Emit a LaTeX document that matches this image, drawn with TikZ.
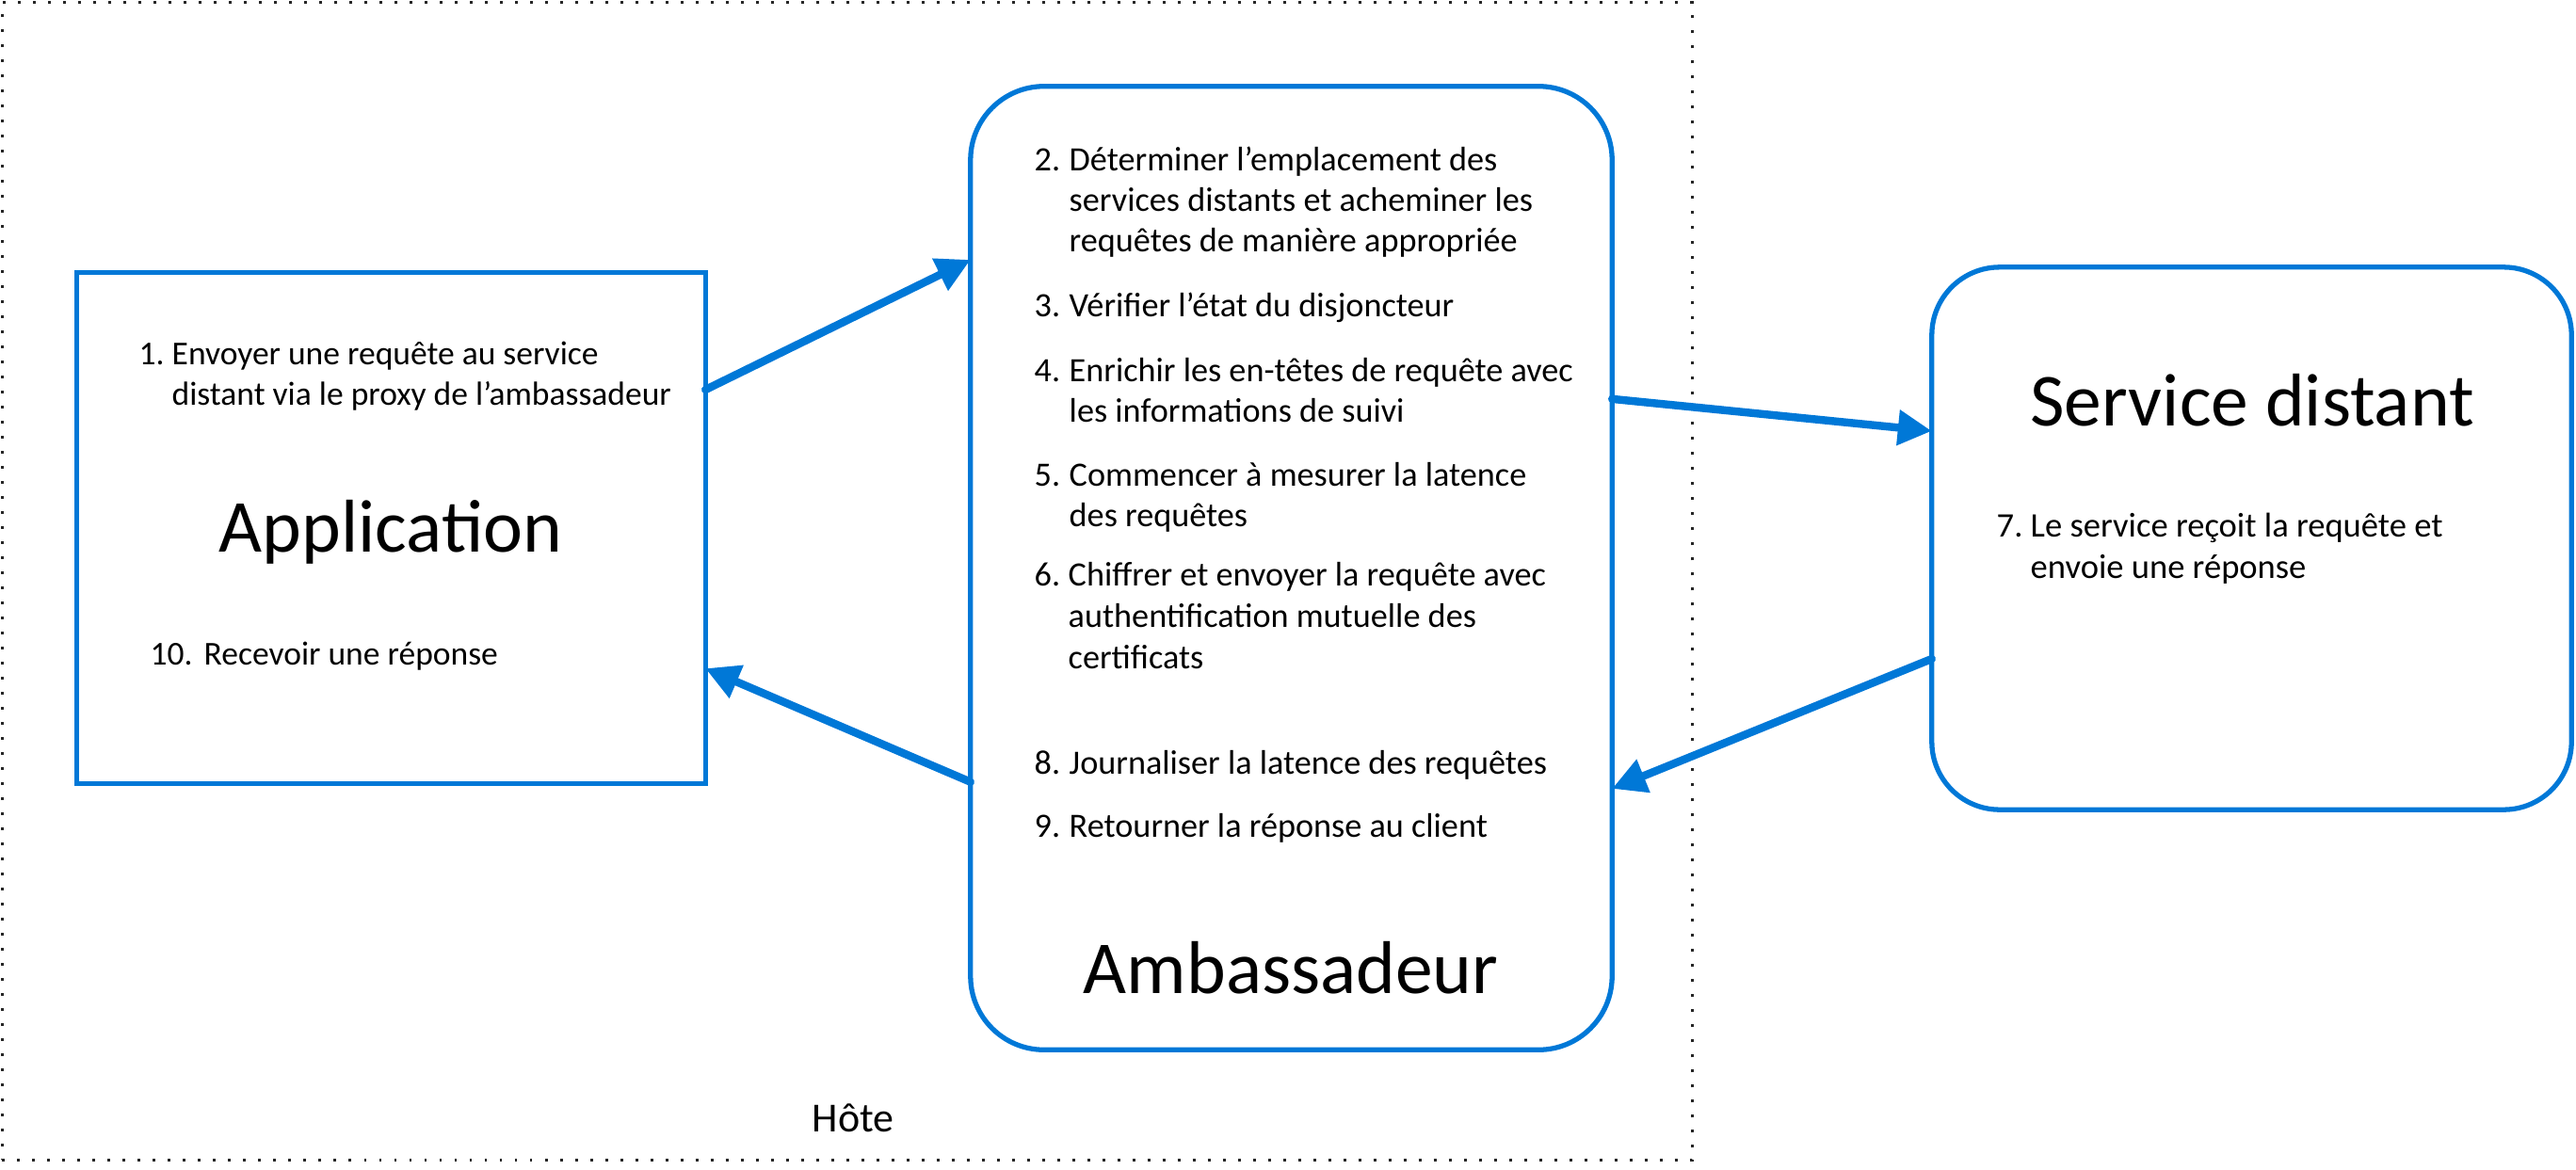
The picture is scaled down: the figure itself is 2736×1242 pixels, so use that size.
\documentclass[tikz,border=0pt]{standalone}
\usepackage{fontspec}
\setmainfont{Carlito}
\usetikzlibrary{arrows.meta,calc}
\definecolor{azblue}{RGB}{0,120,215}
\begin{document}
\begin{tikzpicture}[x=0.01cm,y=-0.01cm,
  box/.style={draw=azblue, line width=1.5pt, inner sep=0pt, outer sep=0pt},
  conn/.style={draw=azblue, line width=2.4pt, line cap=round, -{Triangle[length=0.36cm,width=0.36cm]}},
  small/.style={font=\fontsize{10.3}{12.2}\selectfont, anchor=base west, inner sep=0pt},
  appsmall/.style={small, font=\fontsize{10.1}{12.2}\selectfont},
  svcsmall/.style={small, font=\fontsize{10.4}{12.2}\selectfont},
  big/.style={font=\fontsize{22.6}{27}\selectfont, anchor=base, inner sep=0pt},
  hostlbl/.style={font=\fontsize{12.5}{15}\selectfont, anchor=base, inner sep=0pt},
]
\useasboundingbox (0,0) rectangle (2736,1242);
% host
\node[draw=black!85, line width=0.7pt, dash pattern=on 0.85pt off 3.7pt, minimum width=17.94cm, minimum height=12.29cm, inner sep=0pt] (host) at (900,617.5) {};
\node[hostlbl] (hostlabel) at (906,1202) {Hôte};
% boxes
\node[box, minimum width=6.67cm, minimum height=5.42cm] (app) at (415.5,561) {};
\node[box, rounded corners=0.78cm, minimum width=6.81cm, minimum height=10.23cm] (amb) at (1371.5,603.5) {};
\node[box, rounded corners=0.72cm, minimum width=6.79cm, minimum height=5.76cm] (svc) at (2391.5,572) {};
% application texts
\node[appsmall] (n1) at (147,387) {1.};
\node[appsmall] (t1a) at (182,387) {Envoyer une requête au service};
\node[appsmall] (t1b) at (182,430) {distant via le proxy de l’ambassadeur};
\node[big] (apptitle) at (415,586) {Application};
\node[appsmall] (n10) at (159,706) {10.};
\node[appsmall] (t10) at (216,706) {Recevoir une réponse};
% ambassador texts
\node[small] (n2) at (1098,181) {2.};
\node[small] (t2a) at (1135,181) {Déterminer l’emplacement des};
\node[small] (t2b) at (1135,224) {services distants et acheminer les};
\node[small] (t2c) at (1135,267) {requêtes de manière appropriée};
\node[small] (n3) at (1098,336) {3.};
\node[small] (t3) at (1135,336) {Vérifier l’état du disjoncteur};
\node[small] (n4) at (1098,405) {4.};
\node[small] (t4a) at (1135,405) {Enrichir les en-têtes de requête avec};
\node[small] (t4b) at (1135,448) {les informations de suivi};
\node[small] (n5) at (1098,516) {5.};
\node[small] (t5a) at (1135,516) {Commencer à mesurer la latence};
\node[small] (t5b) at (1135,559) {des requêtes};
\node[small] (n6) at (1098,622) {6.};
\node[small] (t6a) at (1134,622) {Chiffrer et envoyer la requête avec};
\node[small] (t6b) at (1134,666) {authentification mutuelle des};
\node[small] (t6c) at (1134,710) {certificats};
\node[small] (n8) at (1098,822) {8.};
\node[small] (t8) at (1135,822) {Journaliser la latence des requêtes};
\node[small] (n9) at (1098,889) {9.};
\node[small] (t9) at (1135,889) {Retourner la réponse au client};
\node[big] (ambtitle) at (1371,1055) {Ambassadeur};
% remote service texts
\node[big] (svctitle) at (2392,452) {Service distant};
\node[svcsmall] (n7) at (2120,570) {7.};
\node[svcsmall] (t7a) at (2156,570) {Le service reçoit la requête et};
\node[svcsmall] (t7b) at (2156,614) {envoie une réponse};
% connectors
\draw[conn] ($(app.north east)!0.229!(app.south east)$) -- ($(amb.north west)!0.180!(amb.south west)$);
\draw[conn] ($(amb.north east)!0.3245!(amb.south east)$) -- ($(svc.north west)!0.302!(svc.south west)$);
\draw[conn] ($(svc.north west)!0.722!(svc.south west)$) -- ($(amb.north east)!0.729!(amb.south east)$);
\draw[conn] ($(amb.north west)!0.722!(amb.south west)$) -- ($(app.north east)!0.775!(app.south east)$);
\end{tikzpicture}
\end{document}
